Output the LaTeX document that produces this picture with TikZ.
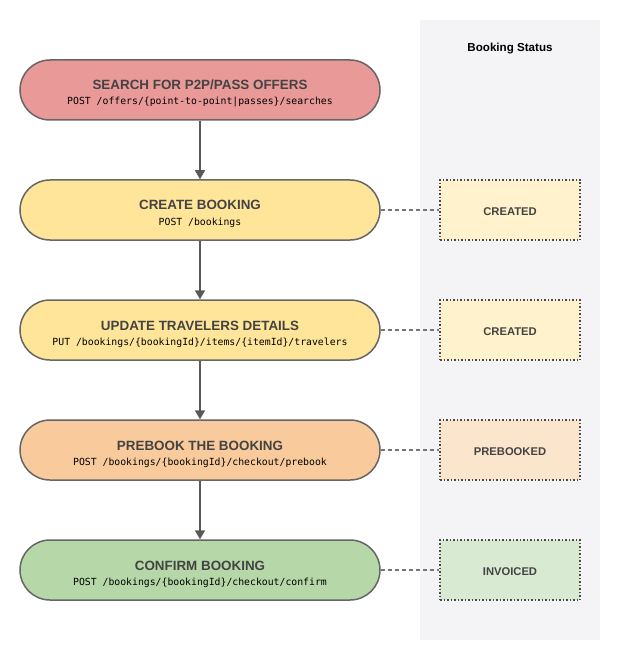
\documentclass[tikz,border=0pt]{standalone}
\usepackage{fontspec}
\setmainfont{Liberation Sans}
\newfontfamily\apimono{DejaVu Sans Mono}
\usetikzlibrary{arrows.meta}
\definecolor{panelgrey}{HTML}{F4F3F6}
\definecolor{txtgrey}{HTML}{434343}
\definecolor{strokegrey}{HTML}{666666}
\definecolor{dotgrey}{HTML}{4A4A4A}
\definecolor{arrowgrey}{HTML}{595959}
\definecolor{searchred}{HTML}{EA9999}
\definecolor{stageyellow}{HTML}{FFE599}
\definecolor{stageorange}{HTML}{F9CB9C}
\definecolor{stagegreen}{HTML}{B6D7A8}
\definecolor{statyellow}{HTML}{FFF2CC}
\definecolor{statorange}{HTML}{FCE5CD}
\definecolor{statgreen}{HTML}{D9EAD3}
\tikzset{
  stage/.style={draw=strokegrey, line width=1.5pt, rectangle, rounded corners=30pt,
    minimum width=360pt, minimum height=60pt, inner sep=0pt},
  stagetitle/.style={anchor=base, text=txtgrey, inner sep=0pt,
    font=\bfseries\fontsize{13.4}{15}\selectfont},
  stageapi/.style={anchor=base, text=black, inner sep=0pt,
    font=\apimono\fontsize{9.8}{12}\selectfont},
  statbox/.style={draw=dotgrey, line width=1.5pt, dotted, rectangle,
    minimum width=140pt, minimum height=60pt, inner sep=0pt},
  stattext/.style={text=txtgrey, inner sep=0pt, font=\bfseries\fontsize{11.2}{13}\selectfont},
  flow/.style={draw=arrowgrey, line width=1.6pt, -{Triangle[width=10pt,length=9pt]}},
  link/.style={draw=strokegrey!90, line width=1.2pt, dash pattern=on 4pt off 3pt},
}
\begin{document}
\begin{tikzpicture}[x=1pt,y=-1pt]
\useasboundingbox[fill=white] (0,0) rectangle (620,660);
\fill[panelgrey] (420,20) rectangle (600,640);
\node[inner sep=0pt, font=\bfseries\fontsize{11.6}{13}\selectfont] (hdr) at (510,49) {Booking Status};

\node[stage, fill=searchred] (s1) at (200,90) {};
\node[stage, fill=stageyellow] (s2) at (200,210) {};
\node[stage, fill=stageyellow] (s3) at (200,330) {};
\node[stage, fill=stageorange] (s4) at (200,450) {};
\node[stage, fill=stagegreen] (s5) at (200,570) {};

\node[stagetitle] (t1) at (s1.center) {SEARCH FOR P2P/PASS OFFERS};
\node[stageapi, yshift=-15pt] (a1) at (s1.center) {POST /offers/\{point-to-point|passes\}/searches};
\node[stagetitle] (t2) at (s2.center) {CREATE BOOKING};
\node[stageapi, yshift=-15pt] (a2) at (s2.center) {POST /bookings};
\node[stagetitle] (t3) at (s3.center) {UPDATE TRAVELERS DETAILS};
\node[stageapi, yshift=-15pt] (a3) at (s3.center) {PUT /bookings/\{bookingId\}/items/\{itemId\}/travelers};
\node[stagetitle] (t4) at (s4.center) {PREBOOK THE BOOKING};
\node[stageapi, yshift=-15pt] (a4) at (s4.center) {POST /bookings/\{bookingId\}/checkout/prebook};
\node[stagetitle] (t5) at (s5.center) {CONFIRM BOOKING};
\node[stageapi, yshift=-15pt] (a5) at (s5.center) {POST /bookings/\{bookingId\}/checkout/confirm};

\node[statbox, fill=statyellow] (b2) at (510,210) {};
\node[statbox, fill=statyellow] (b3) at (510,330) {};
\node[statbox, fill=statorange] (b4) at (510,450) {};
\node[statbox, fill=statgreen] (b5) at (510,570) {};
\node[stattext, yshift=-2pt] (c2) at (b2.center) {CREATED};
\node[stattext, yshift=-2pt] (c3) at (b3.center) {CREATED};
\node[stattext, yshift=-2pt] (c4) at (b4.center) {PREBOOKED};
\node[stattext, yshift=-2pt] (c5) at (b5.center) {INVOICED};

\draw[flow] (s1.south) -- (s2.north);
\draw[flow] (s2.south) -- (s3.north);
\draw[flow] (s3.south) -- (s4.north);
\draw[flow] (s4.south) -- (s5.north);

\draw[link] (s2.east) -- (b2.west);
\draw[link] (s3.east) -- (b3.west);
\draw[link] (s4.east) -- (b4.west);
\draw[link] (s5.east) -- (b5.west);
\end{tikzpicture}
\end{document}
